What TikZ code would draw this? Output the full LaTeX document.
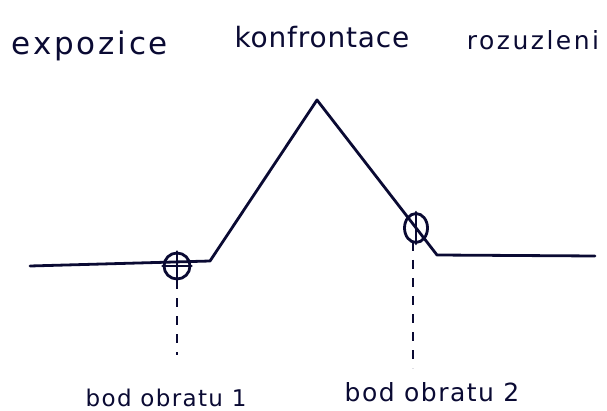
\documentclass[tikz,border=0pt]{standalone}
\usepackage{fontspec}
\usetikzlibrary{shapes.geometric}
\setmainfont{DejaVu Sans}
\begin{document}
\begin{tikzpicture}[x=1pt,y=-1pt,
  ink/.style={draw=inkc,line width=2.8pt,line cap=round,line join=round},
  title/.style={text=inkc,inner sep=0pt,anchor=base},
  lbl/.style={text=inkc,font=\fontsize{23}{26}\selectfont\addfontfeature{LetterSpace=6},inner sep=0pt,anchor=base},
  mark1/.style={circle,draw=inkc,line width=2.8pt,minimum size=26pt,inner sep=0pt},
  mark2/.style={ellipse,draw=inkc,line width=2.8pt,minimum width=23pt,minimum height=29pt,inner sep=0pt},
  guide/.style={draw=inkc,line width=2.4pt,dash pattern=on 9pt off 9pt}]
\definecolor{inkc}{rgb}{0.04,0.04,0.2}
\useasboundingbox (0,0) rectangle (607,411);
% titles
\node[title,font=\fontsize{31}{34}\selectfont\addfontfeature{LetterSpace=9}] (t1) at (90,55) {expozice};
\node[title,font=\fontsize{28}{30}\selectfont\addfontfeature{LetterSpace=3}] (t2) at (322,48) {konfrontace};
\node[title,font=\fontsize{25}{28}\selectfont\addfontfeature{LetterSpace=10}] (t3) at (533,50) {rozuzleni};
% curve
\coordinate (p0) at (30,266);
\coordinate (p1) at (210,261);
\coordinate (p2) at (317,100);
\coordinate (p3) at (437,255);
\coordinate (p4) at (595,256);
\path[ink] (p0) -- (p1) -- (p2) -- (p3) -- (p4);
% turning points
\node[mark1] (m1) at (177,266) {};
\draw[ink] (m1.north) -- (m1.south) (m1.west) -- (m1.east);
\node[mark2] (m2) at (416,228) {};
\draw[ink] (m2.north) -- (m2.south);
% labels
\node[lbl] (l1) at (166,406) {bod obratu 1};
\node[lbl,font=\fontsize{25}{28}\selectfont\addfontfeature{LetterSpace=6}] (l2) at (432,401) {bod obratu 2};
\coordinate (g1) at (177,355);
\coordinate (g2) at (413,368);
\path[guide] (m1.south) -- (g1);
\path[guide] (413,242) -- (g2);
\end{tikzpicture}
\end{document}
